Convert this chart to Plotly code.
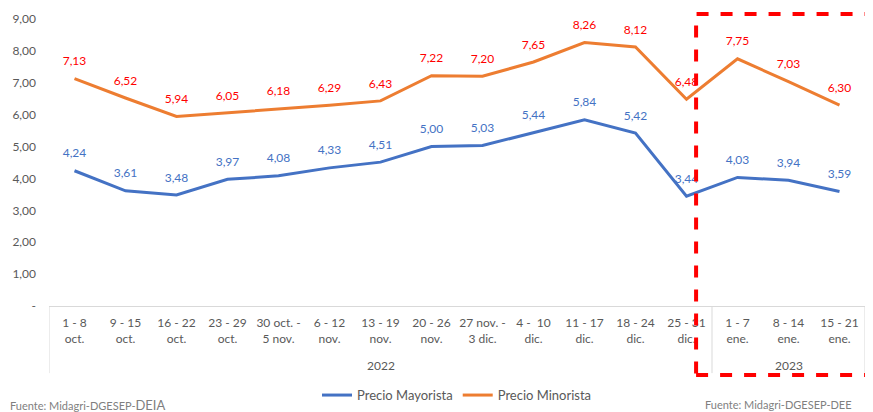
import plotly.graph_objects as go

# weekly prices (S/. per kg)
weeks = ["1 - 8<br>oct.", "9 - 15<br>oct.", "16 - 22<br>oct.", "23 - 29<br>oct.",
         "30 oct. -<br>5 nov.", "6 - 12<br>nov.", "13 - 19<br>nov.", "20 - 26<br>nov.",
         "27 nov. -<br>3 dic.", "4 -  10<br>dic.", "11 - 17<br>dic.", "18 - 24<br>dic.",
         "25 - 31<br>dic.", "1 - 7<br>ene.", "8 - 14<br>ene.", "15 - 21<br>ene."]
years = ["2022"] * 13 + ["2023"] * 3
mayorista = [4.24, 3.61, 3.48, 3.97, 4.08, 4.33, 4.51, 5.00, 5.03, 5.44, 5.84, 5.42,
             3.44, 4.03, 3.94, 3.59]
minorista = [7.13, 6.52, 5.94, 6.05, 6.18, 6.29, 6.43, 7.22, 7.20, 7.65, 8.26, 8.12,
             6.48, 7.75, 7.03, 6.30]
y_ticks = [0, 1, 2, 3, 4, 5, 6, 7, 8, 9]
y_labels = ["-", "1,00", "2,00", "3,00", "4,00", "5,00", "6,00", "7,00", "8,00", "9,00"]

FONT = "Lato, Open Sans, sans-serif"
BLUE = "#4472C4"
ORANGE = "#ED7D31"
GREY = "#595959"
LINE = "#D9D9D9"


def fmt(v):
    return f"{v:.2f}".replace(".", ",")


fig = go.Figure()
fig.add_trace(go.Scatter(x=weeks, y=mayorista, mode="lines", name="Precio Mayorista",
                         line=dict(color=BLUE, width=3)))
fig.add_trace(go.Scatter(x=weeks, y=minorista, mode="lines", name="Precio Minorista",
                         line=dict(color=ORANGE, width=3)))

# data labels above each point (invisible markers push the text up)
fig.add_trace(go.Scatter(x=weeks, y=mayorista, mode="markers+text", showlegend=False,
                         marker=dict(size=15, opacity=0),
                         text=[fmt(v) for v in mayorista], textposition="top center",
                         textfont=dict(color=BLUE, size=12, family=FONT), hoverinfo="skip"))
fig.add_trace(go.Scatter(x=weeks, y=minorista, mode="markers+text", showlegend=False,
                         marker=dict(size=15, opacity=0),
                         text=[fmt(v) for v in minorista], textposition="top center",
                         textfont=dict(color="#FF0000", size=12, family=FONT), hoverinfo="skip"))

# year row under the week labels: group boundaries and centred year labels
groups = []
for i, yr in enumerate(years):
    if not groups or groups[-1][0] != yr:
        groups.append([yr, i, i])
    else:
        groups[-1][2] = i

bounds = [groups[0][1] - 0.5] + [g[2] + 0.5 for g in groups]
for b in bounds:
    fig.add_shape(type="line", xref="x", yref="paper", x0=b, x1=b, y0=0, y1=-0.226,
                  line=dict(color=LINE, width=1))
for yr, first, last in groups:
    fig.add_annotation(text=yr, xref="x", yref="paper", x=(first + last) / 2, y=-0.202,
                       xanchor="center", yanchor="middle", showarrow=False,
                       font=dict(size=12, color=GREY, family=FONT))

# highlight box around 2023
fig.add_shape(type="rect", xref="paper", yref="paper", x0=0.793, x1=1.006, y0=-0.232, y1=0.983,
              line=dict(color="#FF0000", width=4, dash="dash"))

fig.add_annotation(text="Fuente: Midagri-DGESEP-<span style='font-size:13px'>DEIA</span>",
                   xref="paper", yref="paper", x=-0.0502, y=-0.333, xanchor="left", yanchor="middle",
                   showarrow=False, font=dict(size=11, color="#7F7F7F", family=FONT))
fig.add_annotation(text="Fuente: Midagri-DGESEP-DEE",
                   xref="paper", yref="paper", x=0.801, y=-0.33, xanchor="left", yanchor="middle",
                   showarrow=False, font=dict(size=11, color="#7F7F7F", family=FONT))

fig.update_layout(
    width=873, height=412,
    margin=dict(l=41, r=16, t=1, b=114, autoexpand=False),
    paper_bgcolor="white", plot_bgcolor="white",
    font=dict(family=FONT, size=12, color=GREY),
    showlegend=True,
    legend=dict(orientation="h", x=0.5, xanchor="center", y=-0.30, yanchor="middle",
                font=dict(size=13, color=GREY)),
    xaxis=dict(type="category", range=[-0.5, 15.5], showgrid=False, showline=True,
               linecolor=LINE, tickangle=0, ticks="", ticklabelstandoff=6,
               tickfont=dict(size=12, color=GREY)),
    yaxis=dict(range=[0, 9.31], tickvals=y_ticks, ticktext=y_labels, showgrid=False,
               zeroline=False, showline=False, ticks="", ticklabelstandoff=12,
               tickfont=dict(size=12, color=GREY)),
)

fig.write_html("out.html")
